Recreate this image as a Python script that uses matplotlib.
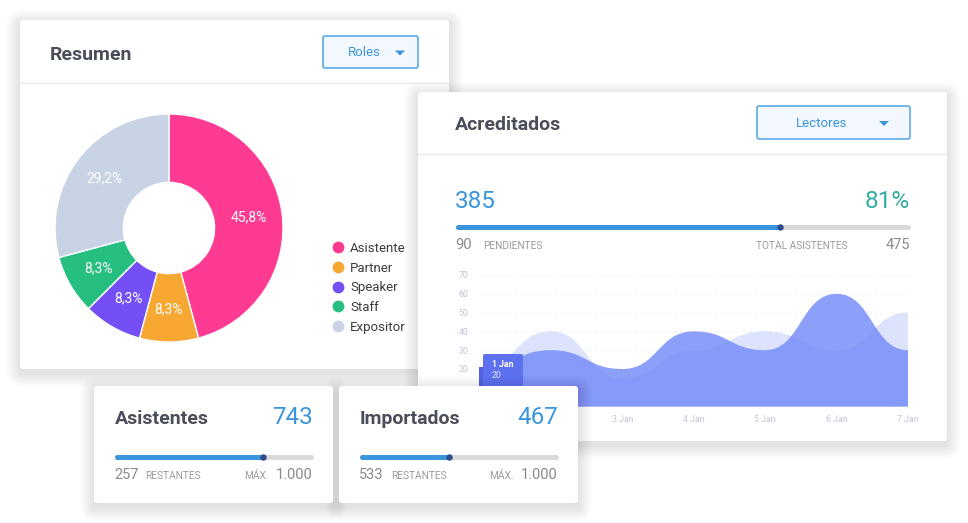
import matplotlib
matplotlib.use('Agg')
import matplotlib.pyplot as plt
from matplotlib.patches import FancyBboxPatch, Rectangle, PathPatch
from matplotlib.path import Path

plt.rcParams['font.family'] = ['Roboto', 'DejaVu Sans']

W, H = 968, 523

# ---------------- data ----------------
roles = ['Asistente', 'Partner', 'Speaker', 'Staff', 'Expositor']
role_counts = [11, 2, 2, 2, 7]
role_colors = ['#ff3a92', '#f6a833', '#734ff5', '#26bf80', '#c8d3e5']

days = ['1 Jan', '2 Jan', '3 Jan', '4 Jan', '5 Jan', '6 Jan', '7 Jan']
serie_front = [20, 30, 20, 40, 30, 60, 30]
serie_back = [20, 40, 15, 30, 40, 30, 50]
y_ticks = [0, 10, 20, 30, 40, 50, 60, 70]

acreditados = '385'
acred_pct = '81%'
pendientes = '90'
total_asist = '475'
acred_bar = 0.715

asistentes = '743'
asist_rest = '257'
asist_bar = 0.75
importados = '467'
import_rest = '533'
import_bar = 0.45
maximo = '1.000'

# colours
TITLE = '#4a4e5a'
BLUE = '#3a96dc'
TEAL = '#33aba1'
GREY_NUM = '#8a8a8a'
GREY_LBL = '#9b9b9b'


def px_rect(x0, y0, x1, y1):
    return [x0 / W, 1 - y1 / H, (x1 - x0) / W, (y1 - y0) / H]


def card(ax, x0, y0, x1, y1, z):
    # soft drop shadow built from stacked translucent boxes
    for k in range(1, 15):
        ax.add_patch(FancyBboxPatch((x0 - k, y0 - k + 4), x1 - x0 + 2 * k, y1 - y0 + 2 * k,
                                    boxstyle='round,pad=0,rounding_size=%d' % (3 + k),
                                    fc='black', ec='none', alpha=0.0085, zorder=z))
    ax.add_patch(FancyBboxPatch((x0, y0), x1 - x0, y1 - y0,
                                boxstyle='round,pad=0,rounding_size=3',
                                fc='white', ec='none', zorder=z + 0.1))


def button(ax, x0, y0, x1, y1, label, tx, cx, z):
    ax.add_patch(FancyBboxPatch((x0, y0), x1 - x0, y1 - y0,
                                boxstyle='round,pad=0,rounding_size=2',
                                fc='#f3f8fe', ec='#3d9be0', lw=1.0, zorder=z))
    yc = (y0 + y1) / 2
    ax.text(tx, yc + 4.5, label, ha='center', va='baseline', fontsize=9.5,
            color=BLUE, zorder=z + 0.1)
    ax.fill([cx - 5, cx + 5, cx], [yc - 1.5, yc - 1.5, yc + 3.5], color=BLUE,
            lw=0, zorder=z + 0.1)


def progress(ax, x0, x1, y, frac, z):
    ax.plot([x0 + 2.5, x1 - 2.5], [y, y], color='#d9d9d9', lw=3.6,
            solid_capstyle='round', zorder=z)
    xf = x0 + (x1 - x0) * frac
    ax.plot([x0 + 2.5, xf], [y, y], color=BLUE, lw=3.6,
            solid_capstyle='round', zorder=z + 0.01)
    ax.plot(xf, y, 'o', ms=4.6, color='#2c4a8c', mec='none', zorder=z + 0.02)


def smooth_area(ax, xs, ys, **kw):
    verts = [(xs[0], 0), (xs[0], ys[0])]
    codes = [Path.MOVETO, Path.LINETO]
    for i in range(len(xs) - 1):
        xm = (xs[i] + xs[i + 1]) / 2.0
        verts += [(xm, ys[i]), (xm, ys[i + 1]), (xs[i + 1], ys[i + 1])]
        codes += [Path.CURVE4] * 3
    verts += [(xs[-1], 0), (xs[0], 0)]
    codes += [Path.LINETO, Path.CLOSEPOLY]
    ax.add_patch(PathPatch(Path(verts, codes), **kw))


fig = plt.figure(figsize=(W / 100, H / 100), dpi=100)
fig.patch.set_facecolor('white')

# ---------- base layer: Resumen + Acreditados cards ----------
ax = fig.add_axes([0, 0, 1, 1], zorder=0)
ax.set_xlim(0, W)
ax.set_ylim(H, 0)
ax.axis('off')

card(ax, 20, 20, 449, 369, 1)
ax.text(50, 60, 'Resumen', fontsize=14, weight='bold', color=TITLE, va='baseline', zorder=2)
button(ax, 323, 36, 418, 68, 'Roles', 364, 400, 2)
ax.plot([20, 449], [83, 83], color='#e7e9ef', lw=1, zorder=2)

for i, (name, col) in enumerate(zip(roles, role_colors)):
    yy = 247 + i * 19.75
    ax.plot(338, yy, 'o', ms=8.5, color=col, mec='none', zorder=2)
    ax.text(350, yy + 5, name, fontsize=9.5, color='#3c3c3c', va='baseline', zorder=2)

card(ax, 418, 92, 947, 441, 3)
ax.text(455, 130, 'Acreditados', fontsize=14, weight='bold', color=TITLE, va='baseline', zorder=4)
button(ax, 757, 106, 910, 139, 'Lectores', 822, 884, 4)
ax.plot([418, 947], [154, 154], color='#e7e9ef', lw=1, zorder=4)

ax.text(455, 208.5, acreditados, fontsize=17.5, color=BLUE, va='baseline', zorder=4)
ax.text(910, 208.5, acred_pct, fontsize=17.5, color=TEAL, ha='right', va='baseline', zorder=4)
progress(ax, 455, 910, 227, acred_bar, 4)
ax.text(455, 249, pendientes, fontsize=10.5, color=GREY_NUM, va='baseline', zorder=4)
ax.text(483, 249, 'PENDIENTES', fontsize=7.3, color=GREY_LBL, va='baseline', zorder=4)
ax.text(848, 249, 'TOTAL ASISTENTES', fontsize=7.3, color=GREY_LBL, ha='right', va='baseline', zorder=4)
ax.text(910, 249, total_asist, fontsize=10.5, color=GREY_NUM, ha='right', va='baseline', zorder=4)

# ---------- donut ----------
cx, cy, r = 169, 228, 114
axp = fig.add_axes(px_rect(cx - r, cy - r, cx + r, cy + r), zorder=1)
wedges, texts, autotexts = axp.pie(
    role_counts, colors=role_colors, startangle=90, counterclock=False, radius=1,
    wedgeprops=dict(width=0.6, edgecolor='white', linewidth=1.0),
    autopct=lambda p: ('%.1f%%' % p).replace('.', ','), pctdistance=0.71)
for t in autotexts:
    t.set_color('white')
    t.set_fontsize(10)
axp.set_xlim(-1, 1)
axp.set_ylim(-1, 1)
axp.set_aspect('equal')
axp.axis('off')

# ---------- area chart ----------
axa = fig.add_axes(px_rect(479.5, 275, 908, 406.6), zorder=1)
axa.patch.set_visible(False)
xs = list(range(1, len(days) + 1))
smooth_area(axa, xs, serie_back, fc='#dde3fd', ec='none', zorder=2)
smooth_area(axa, xs, serie_front, fc='#7088f8', ec='none', alpha=0.8, zorder=3)
axa.set_xlim(1, 7)
axa.set_ylim(0, 70)
axa.set_yticks(y_ticks)
axa.set_xticks(xs)
axa.set_xticklabels(days)
axa.tick_params(length=0, labelsize=6.3, labelcolor='#c2c6d6')
axa.tick_params(axis='y', pad=8)
axa.tick_params(axis='x', pad=6)
axa.yaxis.grid(True, color='#dfe2ef', lw=0.9, linestyle=(0, (1, 3)))
axa.set_axisbelow(True)
for s in axa.spines.values():
    s.set_visible(False)
# labels that sit under the Importados card are not shown
for lab in axa.get_xticklabels()[:2] + axa.get_yticklabels()[:2]:
    lab.set_visible(False)

# ---------- top layer: tooltip + small cards ----------
axt = fig.add_axes([0, 0, 1, 1], zorder=3)
axt.patch.set_visible(False)
axt.set_xlim(0, W)
axt.set_ylim(H, 0)
axt.axis('off')

axt.add_patch(Rectangle((479, 367), 5, 30, fc='#5062e2', ec='none', zorder=1))
axt.add_patch(FancyBboxPatch((483, 354), 40, 45, boxstyle='round,pad=0,rounding_size=2',
                             fc='#5d70ef', ec='none', zorder=1.1))
axt.text(492, 367, days[0], fontsize=6.3, weight='bold', color='white', va='baseline', zorder=1.2)
axt.text(492, 378, str(serie_front[0]), fontsize=6.3, color='#e6e9ff', va='baseline', zorder=1.2)

small_cards = [
    (94, 333, 'Asistentes', asistentes, asist_rest, asist_bar, 145, 269),
    (339, 578, 'Importados', importados, import_rest, import_bar, 391, 514),
]
for x0, x1, title, value, rest, frac, lbl_x, max_x in small_cards:
    card(axt, x0, 386, x1, 503, 2)
    left, right = x0 + 20, x1 - 20
    axt.text(left + 0.5, 424, title, fontsize=14, weight='bold', color=TITLE, va='baseline', zorder=3)
    axt.text(right, 424, value, fontsize=17.5, color=BLUE, ha='right', va='baseline', zorder=3)
    progress(axt, left, right, 457, frac, 3)
    axt.text(left, 479.3, rest, fontsize=10.5, color=GREY_NUM, va='baseline', zorder=3)
    axt.text(lbl_x, 479.3, 'RESTANTES', fontsize=7.3, color=GREY_LBL, va='baseline', zorder=3)
    axt.text(max_x, 479.3, 'MÁX.', fontsize=7.3, color=GREY_LBL, ha='right', va='baseline', zorder=3)
    axt.text(right, 479.3, maximo, fontsize=10.5, color=GREY_NUM, ha='right', va='baseline', zorder=3)

fig.savefig('out.png', dpi=100, facecolor='white')
